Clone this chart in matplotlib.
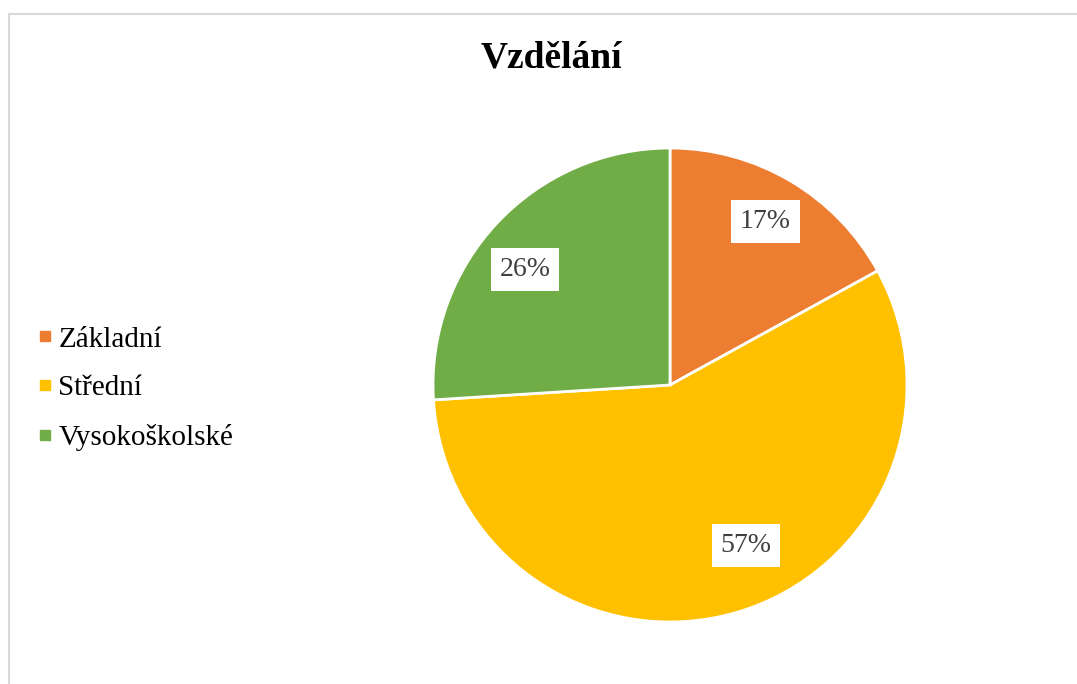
import matplotlib
matplotlib.use('Agg')
import matplotlib.pyplot as plt
from matplotlib.lines import Line2D

# Data
categories = ['Základní', 'Střední', 'Vysokoškolské']
shares = [17, 57, 26]
colors = ['#ED7D31', '#FFC000', '#70AD47']

plt.rcParams['font.family'] = ['Liberation Serif', 'DejaVu Serif']

fig = plt.figure(figsize=(10.77, 6.84), dpi=100)

# chart frame (light gray, only top and left visible)
fig.add_artist(Line2D([8.5 / 1077, 8.5 / 1077], [0, 1 - 13.5 / 684],
                      color='#D9D9D9', lw=1.5, transform=fig.transFigure))
fig.add_artist(Line2D([8.5 / 1077, 1], [1 - 13.5 / 684, 1 - 13.5 / 684],
                      color='#D9D9D9', lw=1.5, transform=fig.transFigure))

# pie axes: center (670, 385), radius 237 px
cx, cy, r = 670, 385, 237
ax = fig.add_axes([(cx - r) / 1077, 1 - (cy + r) / 684, 2 * r / 1077, 2 * r / 684])
wedges, texts, autotexts = ax.pie(
    shares, colors=colors, startangle=90, counterclock=False,
    autopct='%1.0f%%', pctdistance=0.79,
    wedgeprops=dict(edgecolor='white', linewidth=2))
ax.set_xlim(-1, 1)
ax.set_ylim(-1, 1)
ax.set_aspect('equal')

# label placement like Excel "best fit" (in pie radius units)
label_pos = [(0.403, 0.690), (0.321, -0.677), (-0.612, 0.487)]
for t, pos in zip(autotexts, label_pos):
    t.set_position(pos)
    t.set_fontsize(20)
    t.set_color('#404040')
    t.set_bbox(dict(boxstyle='square,pad=0.32', facecolor='white', edgecolor='none'))

fig.text(551 / 1077, 1 - 58 / 684, 'Vzdělání', fontsize=27, fontweight='bold',
         ha='center', va='center')

handles = [Line2D([], [], marker='s', linestyle='none', markersize=7.5,
                  markerfacecolor=c, markeredgecolor=c) for c in colors]
fig.legend(handles, categories, loc='center left',
           bbox_to_anchor=(38 / 1077, 1 - 388.5 / 684), frameon=False,
           fontsize=21, handlelength=0.5, handletextpad=0.2, labelspacing=0.77,
           borderpad=0, borderaxespad=0)

plt.savefig('out.png', dpi=100)
